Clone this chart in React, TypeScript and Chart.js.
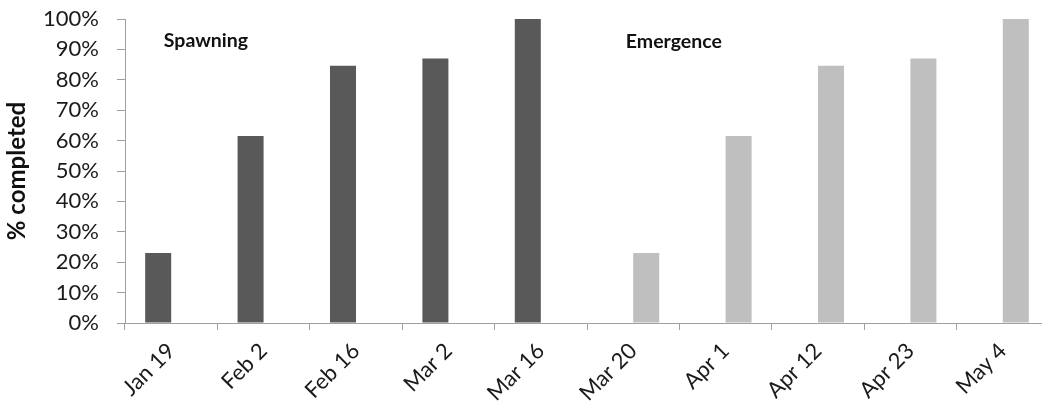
import React, { useEffect, useRef } from "react";
import { Chart, registerables } from "chart.js";

Chart.register(...registerables);

const categories = ["Jan 19", "Feb 2", "Feb 16", "Mar 2", "Mar 16", "Mar 20", "Apr 1", "Apr 12", "Apr 23", "May 4"];
const spawning = [23, 61.5, 84.6, 87, 100, null, null, null, null, null];
const emergence = [null, null, null, null, null, 23, 61.5, 84.6, 87, 100];
const yTicks = [0, 10, 20, 30, 40, 50, 60, 70, 80, 90, 100];
const notes = [
  { text: "Spawning", cat: -0.08, value: 93 },
  { text: "Emergence", cat: 4.92, value: 92.5 },
];

const FONT = "Lato, 'Open Sans', sans-serif";

const notePlugin = {
  id: "notes",
  afterDatasetsDraw(chart: any) {
    const { ctx, scales } = chart;
    const xs = scales.x;
    const ys = scales.y;
    const step = xs.getPixelForValue(1) - xs.getPixelForValue(0);
    ctx.save();
    ctx.font = `bold 19.5px ${FONT}`;
    ctx.fillStyle = "#111";
    ctx.textAlign = "left";
    ctx.textBaseline = "middle";
    notes.forEach((n) => {
      const base = Math.floor(n.cat);
      const x = xs.getPixelForValue(base) + (n.cat - base) * step;
      ctx.fillText(n.text, x, ys.getPixelForValue(n.value));
    });
    ctx.restore();
  },
};

export default function App() {
  const ref = useRef<HTMLCanvasElement>(null);
  useEffect(() => {
    if (!ref.current) return;
    const chart = new Chart(ref.current, {
      type: "bar",
      data: {
        labels: categories,
        datasets: [
          { label: "Spawning", data: spawning as any, backgroundColor: "#595959", categoryPercentage: 0.563, barPercentage: 1 },
          { label: "Emergence", data: emergence as any, backgroundColor: "#bfbfbf", categoryPercentage: 0.563, barPercentage: 1 },
        ],
      },
      options: {
        animation: false,
        responsive: true,
        maintainAspectRatio: false,
        layout: { padding: { left: 0, right: 13, top: 19, bottom: 0 } },
        plugins: { legend: { display: false }, tooltip: { enabled: false } },
        scales: {
          x: {
            grid: { display: true, drawOnChartArea: false, drawTicks: true, tickLength: 7, color: "#a0a0a0", offset: true },
            border: { display: true, color: "#a0a0a0", width: 1 },
            ticks: {
              minRotation: 45,
              maxRotation: 45,
              autoSkip: false,
              padding: 8,
              color: "#1a1a1a",
              font: { family: FONT, size: 22 },
            },
            afterFit: (s: any) => {
              s.height = 91;
            },
          },
          y: {
            min: 0,
            max: 100,
            afterBuildTicks: (s: any) => {
              s.ticks = yTicks.map((v) => ({ value: v }));
            },
            grid: { display: true, drawOnChartArea: false, drawTicks: true, tickLength: 8, color: "#a0a0a0" },
            border: { display: true, color: "#a0a0a0", width: 1 },
            ticks: {
              autoSkip: false,
              padding: 18,
              color: "#1a1a1a",
              font: { family: FONT, size: 22 },
              callback: (v: any) => `${v}%`,
            },
            title: {
              display: true,
              text: "% completed",
              color: "#111",
              font: { family: FONT, size: 24, weight: "bold" },
              padding: { top: 3, bottom: 0 },
            },
            afterFit: (s: any) => {
              s.width = 125;
              s.paddingTop = 0;
              s.paddingBottom = 0;
            },
          },
        },
      },
      plugins: [notePlugin],
    });
    return () => chart.destroy();
  }, []);
  return (
    <div style={{ position: "fixed", left: 0, top: 0, width: 1042, height: 414, overflow: "hidden", background: "#fff" }}>
      <div style={{ position: "relative", width: 1062, height: 414 }}>
        <canvas ref={ref} />
      </div>
    </div>
  );
}
